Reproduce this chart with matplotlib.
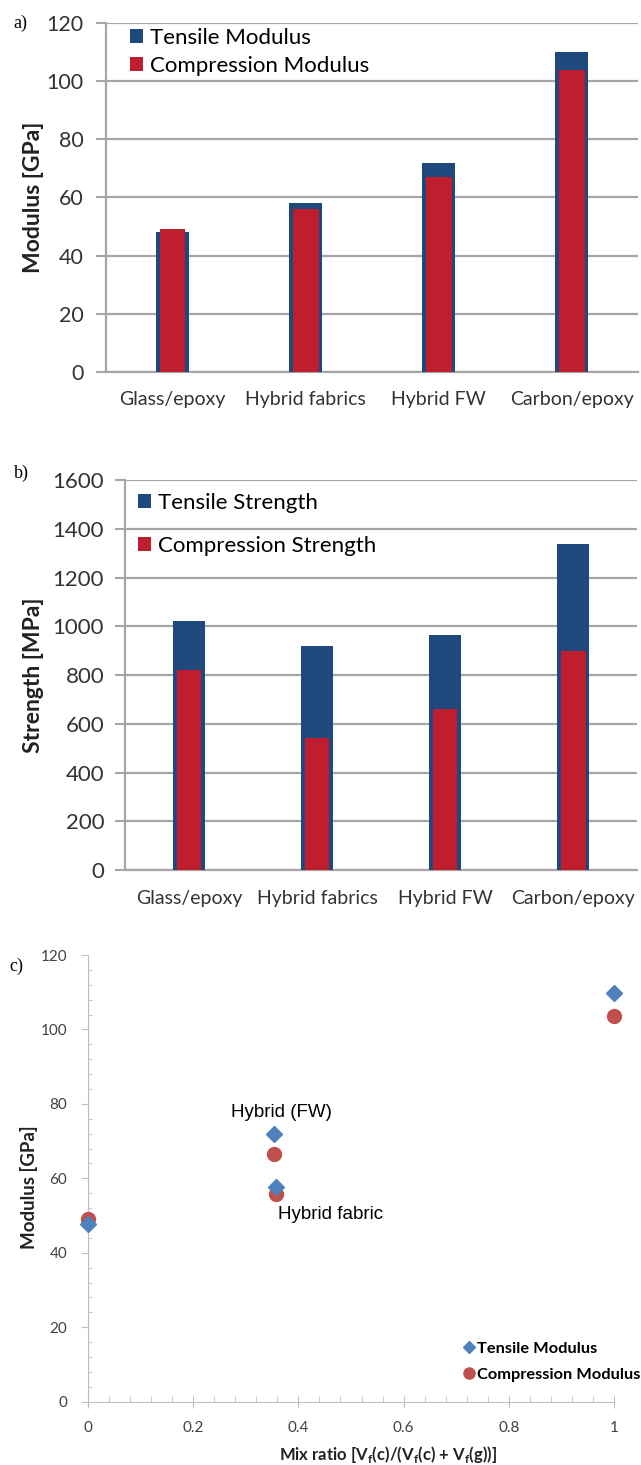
import matplotlib
matplotlib.use('Agg')
import matplotlib.pyplot as plt
import matplotlib.ticker as ticker
import numpy as np

plt.rcParams['font.family'] = ['Lato', 'DejaVu Sans']

materials = ['Glass/epoxy', 'Hybrid fabrics', 'Hybrid FW', 'Carbon/epoxy']
tensile_modulus = [48, 58, 72, 110]
compression_modulus = [49, 56, 67, 104]
tensile_strength = [1020, 919, 965, 1336]
compression_strength = [820, 540, 659, 900]

mix_ratio_t = [0.0, 0.353, 0.357, 1.0]
mix_ratio_c = [0.0, 0.353, 0.357, 1.0]
scatter_tensile = [47.7, 71.8, 57.8, 109.7]
scatter_compression = [49.0, 66.6, 55.7, 103.6]

blue = '#1F497D'
red = '#BE1E2D'
grid_gray = '#A6A6A6'
text_gray = '#333333'

fig = plt.figure(figsize=(6.41, 14.65), dpi=100)


def bar_panel(ax, tens, comp, ymax, step, ylabel, labels, fs_tick, pad, label_x):
    x = np.arange(len(materials))
    ax.bar(x, tens, width=0.25, color=blue, zorder=3, label=labels[0])
    ax.bar(x, comp, width=0.195, color=red, zorder=4, label=labels[1])
    ax.set_xlim(-0.5, 3.5)
    ax.set_ylim(0, ymax)
    ax.set_yticks(np.arange(0, ymax + 1, step))
    ax.set_xticks(x)
    ax.set_xticklabels(materials, fontsize=14, color=text_gray)
    ax.tick_params(axis='x', length=0, pad=14)
    ax.tick_params(axis='y', length=7, width=1.5, color=grid_gray,
                   labelsize=fs_tick, labelcolor=text_gray, pad=pad)
    ax.grid(axis='y', color=grid_gray, linewidth=1.6, zorder=0)
    ax.set_axisbelow(True)
    for s in ['top', 'right']:
        ax.spines[s].set_visible(False)
    for s in ['left', 'bottom']:
        ax.spines[s].set_color(grid_gray)
        ax.spines[s].set_linewidth(1.6)
    ax.set_ylabel(ylabel, fontsize=16.5, fontweight='bold', color='#222222')
    ax.yaxis.set_label_coords(label_x, 0.5)


# a) modulus bars
ax1 = fig.add_axes([0.1654, 0.7461, 0.830, 0.2382])
bar_panel(ax1, tensile_modulus, compression_modulus, 120, 20, 'Modulus [GPa]',
          ['Tensile Modulus', 'Compression Modulus'], 15.5, 9, -0.117)
ax1.legend(loc='upper left', bbox_to_anchor=(0.045, 0.985), frameon=False,
           fontsize=16, handlelength=0.6, handleheight=0.6, handletextpad=0.3,
           labelspacing=0.35, borderpad=0, borderaxespad=0)
fig.text(0.021, 0.981, 'a)', family='Liberation Serif', fontsize=13)

# b) strength bars
ax2 = fig.add_axes([0.195, 0.4061, 0.7988, 0.2662])
bar_panel(ax2, tensile_strength, compression_strength, 1600, 200, 'Strength [MPa]',
          ['Tensile Strength', 'Compression Strength'], 16, 8, -0.158)
ax2.legend(loc='upper left', bbox_to_anchor=(0.025, 0.968), frameon=False,
           fontsize=16, handlelength=0.6, handleheight=0.6, handletextpad=0.3,
           labelspacing=1.05, borderpad=0, borderaxespad=0)
fig.text(0.021, 0.674, 'b)', family='Liberation Serif', fontsize=13)

# c) modulus vs mix ratio
ax3 = fig.add_axes([0.1373, 0.0432, 0.8206, 0.3049])
ax3.plot(mix_ratio_t, scatter_tensile, 'D', color='#4F81BD', ms=8,
         clip_on=False, zorder=4, label='Tensile Modulus')
ax3.plot(mix_ratio_c, scatter_compression, 'o', color='#C0504D', ms=10,
         clip_on=False, zorder=3, label='Compression Modulus')
ax3.set_xlim(0, 1)
ax3.set_ylim(0, 120)
ax3.xaxis.set_major_locator(ticker.MultipleLocator(0.2))
ax3.xaxis.set_minor_locator(ticker.MultipleLocator(0.04))
ax3.yaxis.set_major_locator(ticker.MultipleLocator(20))
ax3.yaxis.set_minor_locator(ticker.MultipleLocator(4))
ax3.xaxis.set_major_formatter(ticker.FuncFormatter(lambda v, p: '%g' % v))
c_gray = '#BFBFBF'
for s in ['top', 'right']:
    ax3.spines[s].set_visible(False)
for s in ['left', 'bottom']:
    ax3.spines[s].set_color(c_gray)
ax3.tick_params(axis='x', which='major', direction='inout', length=8, color=c_gray,
                labelsize=11, labelcolor='#404040', pad=10)
ax3.tick_params(axis='x', which='minor', direction='in', length=4, color=c_gray)
ax3.tick_params(axis='y', which='major', direction='out', length=5, color=c_gray,
                labelsize=11, labelcolor='#404040', pad=10)
ax3.tick_params(axis='y', which='minor', direction='in', length=3, color=c_gray)
ax3.set_xlabel(r'Mix ratio [V$_\mathregular{f}$(c)/(V$_\mathregular{f}$(c) + V$_\mathregular{f}$(g))]',
               fontsize=12, fontweight='bold', color='#222222')
ax3.xaxis.set_label_coords(0.57, -0.095)
ax3.set_ylabel('Modulus [GPa]', fontsize=13.5, fontweight='bold', color='#222222')
ax3.yaxis.set_label_coords(-0.095, 0.48)
ax3.text(0.272, 77.6, 'Hybrid (FW)', family='Liberation Sans', fontsize=13.5,
         va='center', ha='left')
ax3.text(0.361, 50.2, 'Hybrid fabric', family='Liberation Sans', fontsize=13.5,
         va='center', ha='left')
ax3.legend(loc='upper left', bbox_to_anchor=(0.716, 0.135), frameon=False,
           prop={'size': 11.8, 'weight': 'bold'}, handlelength=0.55,
           handletextpad=0.2, labelspacing=0.7, borderpad=0, borderaxespad=0,
           markerscale=0.8)
fig.text(0.014, 0.337, 'c)', family='Liberation Serif', fontsize=13)

fig.savefig('out.png', dpi=100)
